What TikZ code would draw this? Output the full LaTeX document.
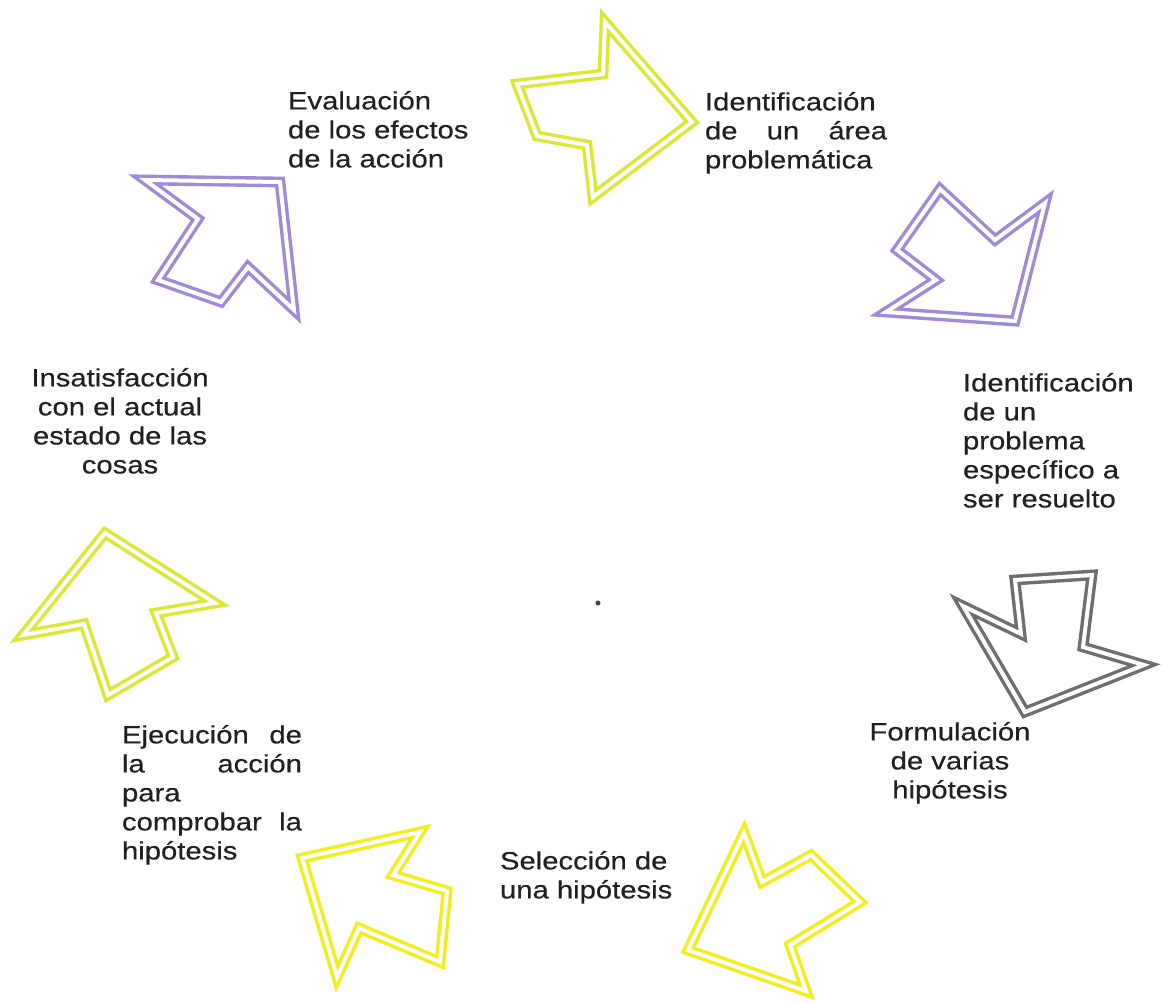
\documentclass[tikz,border=0pt]{standalone}
\usepackage{fontspec}
\setmainfont{Liberation Sans}[FakeStretch=1.17, FakeBold=0.35]
\definecolor{ygreen}{RGB}{218,232,50}
\definecolor{yel}{RGB}{242,238,25}
\definecolor{purp}{RGB}{160,138,215}
\definecolor{grayarr}{RGB}{108,110,114}
\definecolor{txt}{RGB}{32,32,32}
\begin{document}
\begin{tikzpicture}[x=1pt,y=-1pt,
  arr/.style={draw=#1, double=white, double distance=4pt, line width=3.4pt, line join=miter},
  lbl/.style={inner sep=0pt, outer sep=0pt, text=txt, font=\fontsize{25}{29}\selectfont}]
\path[use as bounding box, fill=white] (0,0) rectangle (1162,1002);

% arrows (clockwise from top)
\draw[arr=ygreen] (517,84) -- (603,74) -- (605,22) -- (692,122) -- (593,197) -- (587,145) -- (537,136) -- cycle;
\draw[arr=purp] (940,189) -- (995,240) -- (1045,203) -- (1015,321) -- (886,312) -- (936,280) -- (897,250) -- cycle;
\draw[arr=grayarr] (1015,580) -- (1092,575) -- (1083,647) -- (1144,665) -- (1025,712) -- (963,606) -- (1021,634) -- cycle;
\draw[arr=yel] (744,833) -- (762,882) -- (811,855) -- (860,902) -- (790,945) -- (806,991) -- (688,950) -- cycle;
\draw[arr=yel] (302,858) -- (420,832) -- (393,875) -- (447,891) -- (440,962) -- (359,928) -- (337,977) -- cycle;
\draw[arr=ygreen] (105,533) -- (215,603) -- (156,613) -- (173,657) -- (108,695) -- (84,624) -- (23,635) -- cycle;
\draw[arr=purp] (145,180) -- (280,182) -- (294,310) -- (248,267) -- (221,302) -- (158,280) -- (198,219) -- cycle;

% small dot
\fill[txt!85] (598,603) circle (2.5pt);

% labels
\node[lbl, anchor=north west, align=left] (evaluacion) at (288,91)
  {Evaluación\\de los efectos\\de la acción};
\node[lbl, anchor=north west, align=left, text width=182pt] (area) at (705,92)
  {Identificación\\de\hfill un\hfill área\\problemática};
\node[lbl, anchor=north west, align=left] (problema) at (963,373)
  {Identificación\\de un\\problema\\específico a\\ser resuelto};
\node[lbl, anchor=north, align=center] (insatisfaccion) at (120,368)
  {Insatisfacción\\con el actual\\estado de las\\cosas};
\node[lbl, anchor=north, align=center] (formulacion) at (950,722)
  {Formulación\\de varias\\hipótesis};
\node[lbl, anchor=north west, align=left] (seleccion) at (500,851)
  {Selección de\\una hipótesis};
\node[lbl, anchor=north west, align=left, text width=180pt] (ejecucion) at (122,725)
  {Ejecución\hfill de\\la\hfill acción\\para\\comprobar\hfill la\\hipótesis};
\end{tikzpicture}
\end{document}
